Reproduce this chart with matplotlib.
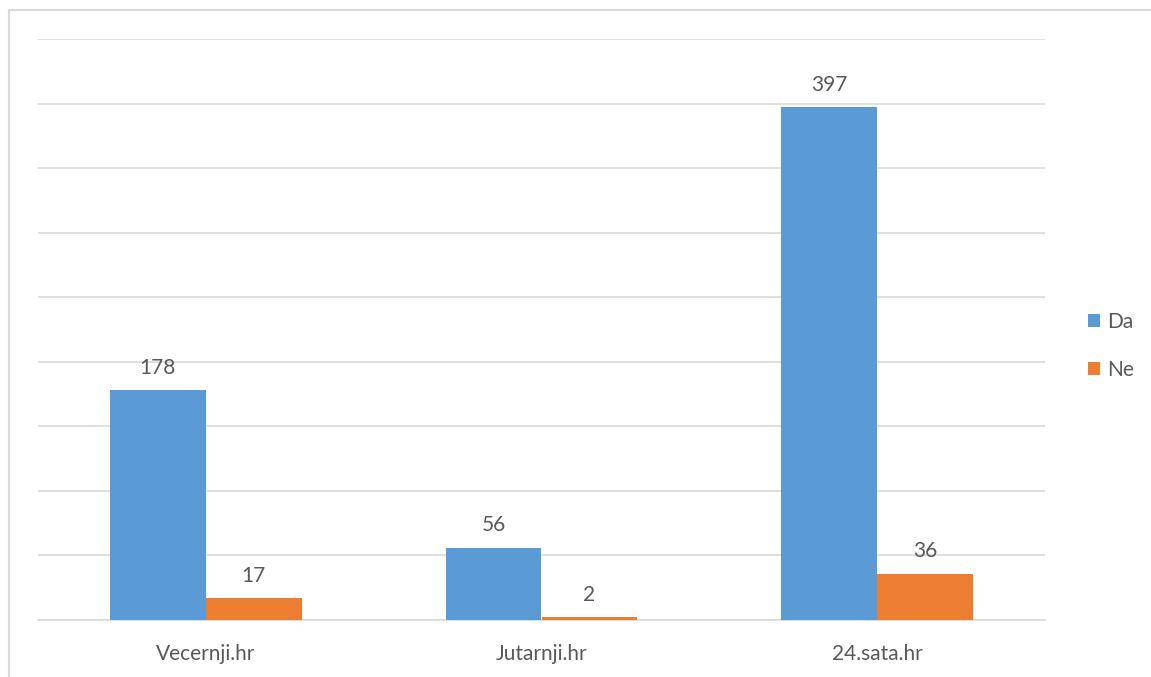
import numpy as np
import matplotlib.pyplot as plt
from matplotlib.patches import Rectangle

categories = ["Vecernji.hr", "Jutarnji.hr", "24.sata.hr"]
da_values = [178, 56, 397]
ne_values = [17, 2, 36]
series_names = ["Da", "Ne"]

BLUE = "#5B9BD5"
ORANGE = "#ED7D31"
GRID = "#D9D9D9"
TEXT = "#595959"
FS = 15

plt.rcParams["font.family"] = ["Lato", "DejaVu Sans"]

W, H = 1151, 677
fig = plt.figure(figsize=(W / 100, H / 100), dpi=100)
ax = fig.add_axes([38 / W, (H - 620) / H, (1045 - 38) / W, (620 - 39) / H])

# outer chart border (only top and left visible in the crop)
fig.patches.append(Rectangle((8.5 / W, -0.1), 1.2, (H - 9.5) / H + 0.1,
                             transform=fig.transFigure, fill=False,
                             edgecolor=GRID, linewidth=1.5))

x = np.arange(len(categories))
width = 1 / 3.5
b1 = ax.bar(x - width / 2, da_values, width, color=BLUE, label=series_names[0], zorder=3)
b2 = ax.bar(x + width / 2, ne_values, width, color=ORANGE, label=series_names[1], zorder=3)

for bars in (b1, b2):
    for rect in bars:
        ax.annotate(f"{int(rect.get_height())}",
                    (rect.get_x() + rect.get_width() / 2, rect.get_height()),
                    xytext=(0, 16), textcoords="offset points",
                    ha="center", va="center", fontsize=FS, color=TEXT)

ax.set_xlim(-0.5, len(categories) - 0.5)
ax.set_ylim(0, 450)
ax.set_yticks(np.arange(0, 451, 50))
ax.yaxis.grid(True, color=GRID, linewidth=1.2, zorder=0)
ax.tick_params(axis="y", left=False, labelleft=False)
ax.set_xticks(x)
ax.set_xticklabels(categories, fontsize=FS, color=TEXT)
ax.tick_params(axis="x", length=0, pad=17)
for s in ["top", "right", "left"]:
    ax.spines[s].set_visible(False)
ax.spines["bottom"].set_color(GRID)
ax.spines["bottom"].set_linewidth(1.2)

fig.legend(handles=[b1, b2], labels=series_names, loc="center left",
           bbox_to_anchor=(1069 / W, (H - 346) / H), frameon=False,
           fontsize=FS, labelcolor=TEXT, handlelength=0.6, handleheight=0.6,
           handletextpad=0.35, labelspacing=1.35)

fig.savefig("out.png", dpi=100)
